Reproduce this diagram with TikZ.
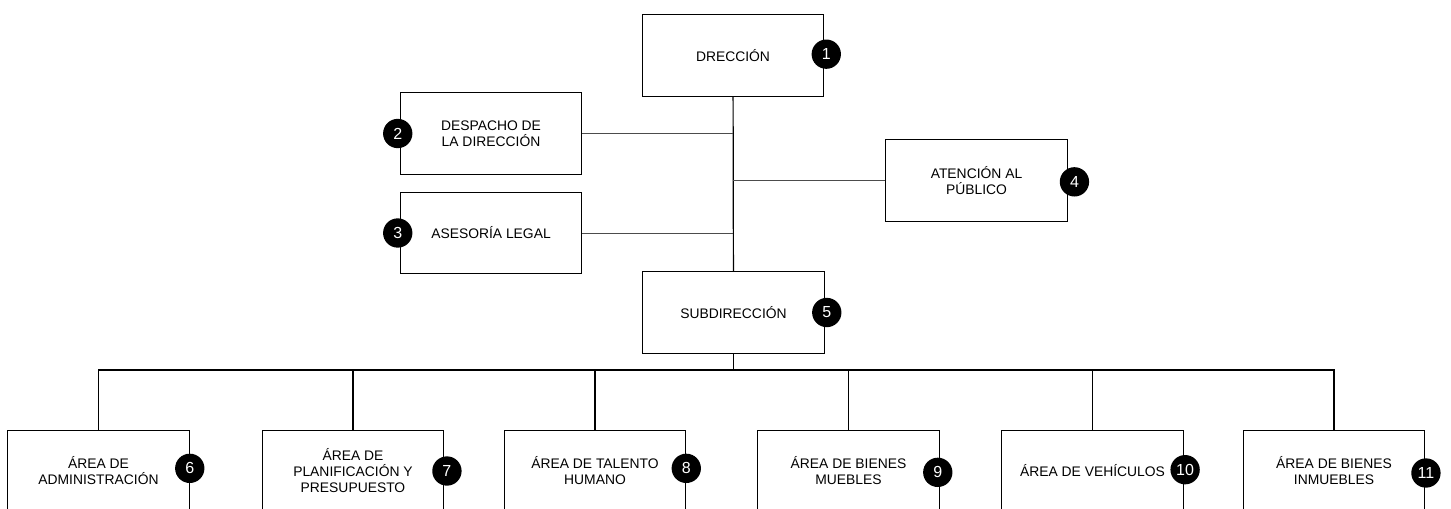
\documentclass[tikz,border=0pt]{standalone}
\usepackage{fontspec}
\setmainfont{Liberation Sans}
\begin{document}
\begin{tikzpicture}[x=0.75pt, y=-0.75pt,
  unit/.style={draw, line width=0.9pt, minimum width=136pt, minimum height=61pt,
    inner sep=0pt, align=center, font=\fontsize{10.4}{12}\selectfont},
  badge/.style={circle, fill=black, text=white, minimum size=22pt, inner sep=0pt,
    font=\fontsize{12}{12}\selectfont},
  link/.style={line width=0.9pt},
  thin link/.style={line width=0.6pt, color=black!70}]
  \useasboundingbox (0,0) rectangle (1451,508);
  % upper level
  \node[unit] (dir) at (733,55.5) {DRECCIÓN};
  \node[unit] (desp) at (491,133.5) {DESPACHO DE\\LA DIRECCIÓN};
  \node[unit] (ases) at (491,233) {ASESORÍA LEGAL};
  \node[unit] (aten) at (976.5,180.5) {ATENCIÓN AL\\PÚBLICO};
  \node[unit] (sub) at (733.5,312.5) {SUBDIRECCIÓN};
  % areas
  \node[unit] (a6) at (98.5,471) {ÁREA DE\\ADMINISTRACIÓN};
  \node[unit] (a7) at (353,471) {ÁREA DE\\PLANIFICACIÓN Y\\PRESUPUESTO};
  \node[unit] (a8) at (595,471) {ÁREA DE TALENTO\\HUMANO};
  \node[unit] (a9) at (848.5,471) {ÁREA DE BIENES\\MUEBLES};
  \node[unit] (a10) at (1092.5,471) {ÁREA DE VEHÍCULOS};
  \node[unit] (a11) at (1334,471) {ÁREA DE BIENES\\INMUEBLES};
  % numbers
  \node[badge] (n1) at ([xshift=1.5pt,yshift=1pt]dir.east) {1};
  \node[badge] (n2) at ([xshift=-1.5pt]desp.west) {2};
  \node[badge] (n3) at ([xshift=-1.5pt]ases.west) {3};
  \node[badge] (n4) at ([xshift=5pt,yshift=-1pt]aten.east) {4};
  \node[badge] (n5) at ([xshift=1.5pt]sub.east) {5};
  \node[badge] (n6) at ([yshift=2pt]a6.east) {6};
  \node[badge] (n7) at ([xshift=2pt]a7.east) {7};
  \node[badge] (n8) at ([yshift=2pt]a8.east) {8};
  \node[badge] (n9) at ([xshift=-1.5pt,yshift=-1pt]a9.east) {9};
  \node[badge] (n10) at ([xshift=1pt,yshift=1pt]a10.east) {10};
  \node[badge] (n11) at ([xshift=0.5pt,yshift=-1.5pt]a11.east) {11};
  % connectors
  \draw[link] (dir) -- (sub);
  \draw[thin link] (desp.east) -- (desp.east -| dir.south);
  \draw[thin link] (ases.east) -- (ases.east -| dir.south);
  \draw[thin link] (aten.west) -- (aten.west -| dir.south);
  \coordinate (bus) at (733.5,370);
  \draw[link] (sub) -- (bus);
  \foreach \a in {a6,a7,a8,a9,a10,a11}
    \draw[link] (bus) -| (\a.north);
\end{tikzpicture}
\end{document}
